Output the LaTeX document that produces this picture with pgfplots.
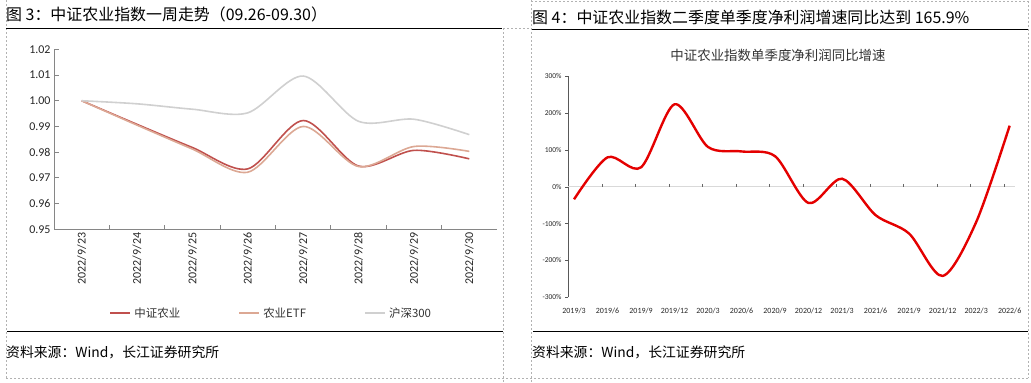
\documentclass[border=0pt]{standalone}
\usepackage{fontspec}
\setmainfont{Carlito}
\newfontfamily\cjk{Noto Sans CJK SC}
\usepackage{pgfplots}
\pgfplotsset{compat=1.18}
\definecolor{zzred}{RGB}{192,80,77}
\definecolor{etf}{RGB}{220,168,148}
\definecolor{hs}{RGB}{208,208,208}
\definecolor{rred}{RGB}{228,0,0}
\definecolor{axgray}{RGB}{134,134,134}
\begin{document}
\begin{tikzpicture}[x=1bp,y=1bp]
\path (0,0) rectangle (1031,382);
% dashed frames
\begin{scope}[draw=black!30, line width=0.6bp, dash pattern=on 2bp off 2bp]
\draw (6,382) -- (6,4);
\draw (503,354) -- (503,0);
\draw (503,354) -- (531,354);
\draw (531,382) -- (531,0);
\draw (531,381) -- (1028,381);
\draw (1028,381) -- (1028,4);
\draw (6,4) -- (1028,4);
\end{scope}
% black rules
\draw[line width=1.2bp] (6,354) -- (502,354);
\draw[line width=1.2bp] (532,353) -- (1028,353);
\draw[line width=1.2bp] (7,51) -- (503,51);
\draw[line width=1.2bp] (533,51) -- (1028,51);
% titles
\node[anchor=west, inner sep=0pt] at (6,368) {\cjk\fontsize{16}{18}\selectfont 图 3：中证农业指数一周走势（09.26-09.30）};
\node[anchor=west, inner sep=0pt] at (532,365) {\cjk\fontsize{16}{18}\selectfont 图 4：中证农业指数二季度单季度净利润增速同比达到 165.9\%};
\node[anchor=west, inner sep=0pt] at (6,30) {\cjk\fontsize{13.9}{16}\selectfont 资料来源：Wind，长江证券研究所};
\node[anchor=west, inner sep=0pt] at (532,30) {\cjk\fontsize{13.9}{16}\selectfont 资料来源：Wind，长江证券研究所};
\node[inner sep=0pt, text=black!80] at (778,327) {\cjk\fontsize{13.5}{16}\selectfont 中证农业指数单季度净利润同比增速};

% left chart
\begin{axis}[at={(54bp,153bp)}, anchor=south west, scale only axis,
  width=443bp, height=180bp,
  xmin=-0.5, xmax=7.5, ymin=0.95, ymax=1.02,
  axis lines=left, axis line style={-, draw=axgray, line width=0.8bp},
  ytick={0.95,0.96,...,1.021},
  /pgf/number format/fixed, /pgf/number format/fixed zerofill, /pgf/number format/precision=2, /pgf/number format/assume math mode=true,
  yticklabel style={font=\fontsize{12}{14}\selectfont, text=black!85},
  tick align=inside, major tick length=5bp,
  ytick style={draw=axgray, line width=0.8bp},
  xtick={0,...,7},
  xticklabels={2022/9/23,2022/9/24,2022/9/25,2022/9/26,2022/9/27,2022/9/28,2022/9/29,2022/9/30},
  xticklabel style={rotate=90, anchor=east, font=\fontsize{12}{14}\selectfont, text=black!85},
  xtick style={draw=none},
  extra x ticks={0.5,1.5,...,6.5}, extra x tick labels={},
  extra x tick style={major tick length=4bp, xtick style={draw=axgray, line width=0.8bp}},
  legend columns=3,
  legend style={at={(0.118,-0.467)}, anchor=west, draw=none, fill=none,
    font=\cjk\fontsize{11.5}{13}\selectfont, text=black!80,
    /tikz/every odd column/.append style={column sep=1bp},
    /tikz/every even column/.append style={column sep=56bp}},
  legend image code/.code={\draw[#1, line width=2bp] (0bp,0bp) -- (20bp,0bp);},
  clip=false,
]
\addplot[zzred, line width=1.6bp, smooth] coordinates {(0,1.0000) (1,0.9908) (2,0.9818) (3,0.9735) (4,0.9923) (5,0.9746) (6,0.9807) (7,0.9774)};
\addlegendentry{中证农业}
\addplot[etf, line width=1.6bp, smooth] coordinates {(0,1.0000) (1,0.9905) (2,0.9812) (3,0.9722) (4,0.9900) (5,0.9744) (6,0.9822) (7,0.9803)};
\addlegendentry{农业ETF}
\addplot[hs, line width=1.6bp, smooth] coordinates {(0,1.0000) (1,0.9988) (2,0.9967) (3,0.9953) (4,1.0096) (5,0.9920) (6,0.9928) (7,0.9868)};
\addlegendentry{沪深300}
\end{axis}

% right chart
\begin{axis}[at={(568bp,85bp)}, anchor=south west, scale only axis,
  width=447bp, height=221bp,
  xmin=-0.18, xmax=13.16, ymin=-300, ymax=300,
  axis x line*=bottom, axis y line*=left,
  x axis line style={draw=none},
  y axis line style={-, draw=black!65, line width=0.8bp},
  ytick={-300,-200,...,300},
  yticklabel={\pgfmathprintnumber[assume math mode=true]{\tick}\%},
  yticklabel style={font=\fontsize{7.5}{9}\selectfont, text=black!85},
  tick align=outside, major tick length=3bp,
  ytick style={draw=black!65, line width=0.6bp},
  xtick={0,...,13},
  xticklabels={2019/3,2019/6,2019/9,2019/12,2020/3,2020/6,2020/9,2020/12,2021/3,2021/6,2021/9,2021/12,2022/3,2022/6},
  xticklabel style={font=\fontsize{8}{9}\selectfont, text=black!85, yshift=-4bp},
  xtick style={draw=none},
  clip=false,
]
\draw[black!15, line width=0.8bp] (axis cs:-0.18,0) -- (axis cs:13.16,0);
\addplot[only marks, mark=|, mark size=1.5bp, black!60, mark options={line width=0.6bp}] coordinates {(0.836,4) (1.836,4) (2.836,4) (3.836,4) (4.836,4) (5.836,4) (6.836,4) (7.836,4) (8.836,4) (9.836,4) (10.836,4) (11.836,4) (12.836,4)};
\addplot[rred, line width=2.4bp, smooth] coordinates {(0,-34) (1,80) (2,53) (3,224) (4,108) (5,96) (6,83) (7,-44) (8,22) (9,-77) (10,-127) (11,-242) (12,-96) (13,165.9)};
\end{axis}
\end{tikzpicture}
\end{document}
